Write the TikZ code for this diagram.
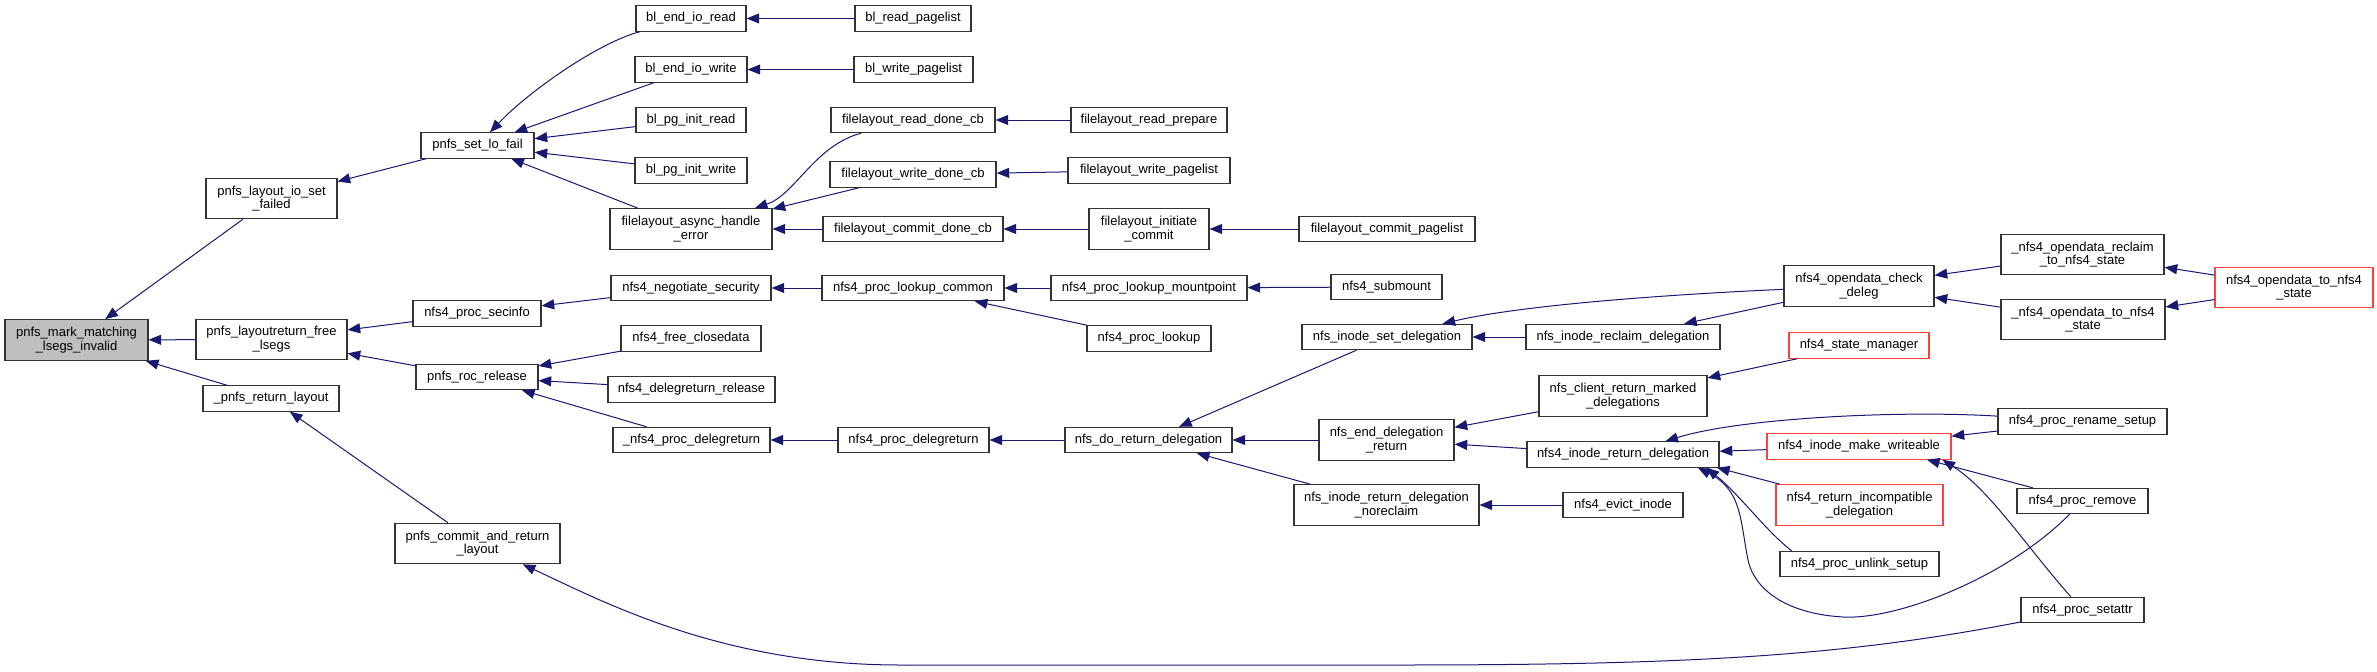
\documentclass[tikz,border=0pt]{standalone}
\usepackage{fontspec}
\setmainfont{Liberation Sans}
\usetikzlibrary{arrows.meta}
\definecolor{edgeblue}{HTML}{191970}
\definecolor{truncred}{HTML}{FF4040}
\definecolor{hlgray}{HTML}{BFBFBF}

\begin{document}
\begin{tikzpicture}[x=0.75pt, y=-0.75pt, >={Triangle[length=9.5pt,width=7.5pt]},
    fn/.style={rectangle, draw=black!80, line width=0.8pt, fill=white, inner sep=0pt,
      minimum height=19pt, align=center, font=\fontsize{9.75}{10.3}\selectfont},
    two/.style={minimum height=30.5pt},
    hl/.style={fill=hlgray},
    redbox/.style={draw=truncred},
    call/.style={->, draw=edgeblue, line width=0.75pt}]
  \fill[white] (0,0) rectangle (2377,671);
  \useasboundingbox (0,0) rectangle (2377,671);

  % column 1 and 2
  \node[fn, two, hl, minimum width=107.25pt] (mark) at (76.5,340) {pnfs\_mark\_matching\\\_lsegs\_invalid};
  \node[fn, two, minimum width=98.25pt] (iofail) at (271.5,198.5) {pnfs\_layout\_io\_set\\\_failed};
  \node[fn, two, minimum width=113.25pt] (lrfree) at (271.5,339.5) {pnfs\_layoutreturn\_free\\\_lsegs};
  \node[fn, minimum width=102pt] (retlay) at (271,398.5) {\_pnfs\_return\_layout};

  % column 3
  \node[fn, minimum width=84.75pt] (setlo) at (477.5,145.5) {pnfs\_set\_lo\_fail};
  \node[fn, minimum width=96pt] (secinfo) at (477,313.5) {nfs4\_proc\_secinfo};
  \node[fn, minimum width=91.5pt] (roc) at (477,377) {pnfs\_roc\_release};
  \node[fn, two, minimum width=123.75pt] (commit) at (477.5,543.5) {pnfs\_commit\_and\_return\\\_layout};

  % column 4
  \node[fn, minimum width=82.5pt] (blread) at (691,18.5) {bl\_end\_io\_read};
  \node[fn, minimum width=84pt] (blwrite) at (691,69.5) {bl\_end\_io\_write};
  \node[fn, minimum width=82.5pt] (blpgr) at (691,120) {bl\_pg\_init\_read};
  \node[fn, minimum width=84pt] (blpgw) at (691,170.5) {bl\_pg\_init\_write};
  \node[fn, two, minimum width=121.5pt] (async) at (691,229) {filelayout\_async\_handle\\\_error};
  \node[fn, minimum width=120pt] (negsec) at (691,288) {nfs4\_negotiate\_security};
  \node[fn, minimum width=105pt] (freecd) at (691,338.5) {nfs4\_free\_closedata};
  \node[fn, minimum width=125.25pt] (drrel) at (691.5,389.5) {nfs4\_delegreturn\_release};
  \node[fn, minimum width=117.75pt] (pdrint) at (691.5,440) {\_nfs4\_proc\_delegreturn};

  % column 5
  \node[fn, minimum width=87pt] (blrpl) at (913,18.5) {bl\_read\_pagelist};
  \node[fn, minimum width=89.25pt] (blwpl) at (913.5,69.5) {bl\_write\_pagelist};
  \node[fn, minimum width=123pt] (rdcb) at (913,120) {filelayout\_read\_done\_cb};
  \node[fn, minimum width=124.5pt] (wrcb) at (913,174.5) {filelayout\_write\_done\_cb};
  \node[fn, minimum width=135pt] (cmcb) at (913,229) {filelayout\_commit\_done\_cb};
  \node[fn, minimum width=136.5pt] (lkcommon) at (913,288) {nfs4\_proc\_lookup\_common};
  \node[fn, minimum width=113.25pt] (pdr) at (913.5,440) {nfs4\_proc\_delegreturn};

  % column 6
  \node[fn, minimum width=117pt] (rdprep) at (1149,120) {filelayout\_read\_prepare};
  \node[fn, minimum width=121.5pt] (wrpl) at (1149,170.5) {filelayout\_write\_pagelist};
  \node[fn, two, minimum width=90pt] (initc) at (1149,229) {filelayout\_initiate\\\_commit};
  \node[fn, minimum width=147pt] (lkmount) at (1149,288) {nfs4\_proc\_lookup\_mountpoint};
  \node[fn, minimum width=93pt] (lookup) at (1149,338.5) {nfs4\_proc\_lookup};
  \node[fn, minimum width=125.25pt] (doret) at (1148.5,440) {nfs\_do\_return\_delegation};

  % column 7
  \node[fn, minimum width=132pt] (cmpl) at (1387,229) {filelayout\_commit\_pagelist};
  \node[fn, minimum width=83.25pt] (submount) at (1386.5,287) {nfs4\_submount};
  \node[fn, minimum width=127.5pt] (setdel) at (1387,337) {nfs\_inode\_set\_delegation};
  \node[fn, two, minimum width=101.25pt] (enddel) at (1386.5,440) {nfs\_end\_delegation\\\_return};
  \node[fn, two, minimum width=138.75pt] (noreclaim) at (1386.5,505) {nfs\_inode\_return\_delegation\\\_noreclaim};

  % column 8
  \node[fn, minimum width=145.5pt] (reclaim) at (1623,337) {nfs\_inode\_reclaim\_delegation};
  \node[fn, two, minimum width=126pt] (client) at (1623,396) {nfs\_client\_return\_marked\\\_delegations};
  \node[fn, minimum width=144pt] (inoderet) at (1623,454.5) {nfs4\_inode\_return\_delegation};
  \node[fn, minimum width=90pt] (evict) at (1623,505) {nfs4\_evict\_inode};

  % column 9
  \node[fn, two, minimum width=112.5pt] (check) at (1859,286) {nfs4\_opendata\_check\\\_deleg};
  \node[fn, redbox, minimum width=105pt] (statemgr) at (1859,345.5) {nfs4\_state\_manager};
  \node[fn, redbox, minimum width=138pt] (writeable) at (1859,446.5) {nfs4\_inode\_make\_writeable};
  \node[fn, two, redbox, minimum width=125.25pt] (incompat) at (1859.5,505) {nfs4\_return\_incompatible\\\_delegation};
  \node[fn, minimum width=119.25pt] (unlink) at (1859.5,564) {nfs4\_proc\_unlink\_setup};

  % column 10 and 11
  \node[fn, two, minimum width=122.25pt] (reclaimst) at (2082.5,254.5) {\_nfs4\_opendata\_reclaim\\\_to\_nfs4\_state};
  \node[fn, two, minimum width=123pt] (odto) at (2083,319.5) {\_nfs4\_opendata\_to\_nfs4\\\_state};
  \node[fn, minimum width=126.75pt] (rename) at (2082.5,421.5) {nfs4\_proc\_rename\_setup};
  \node[fn, minimum width=98.25pt] (remove) at (2082.5,501) {nfs4\_proc\_remove};
  \node[fn, minimum width=92.25pt] (setattr) at (2082.5,610) {nfs4\_proc\_setattr};
  \node[fn, two, redbox, minimum width=118.5pt] (odstate) at (2294,287.5) {nfs4\_opendata\_to\_nfs4\\\_state};

  % calls
  \draw[call] (iofail) -- (mark);
  \draw[call] (lrfree) -- (mark);
  \draw[call] (retlay) -- (mark);
  \draw[call] (setlo) -- (iofail);
  \draw[call] (secinfo) -- (lrfree);
  \draw[call] (roc) -- (lrfree);
  \draw[call] (commit) -- (retlay);
  \draw[call] (blread) .. controls (600,42) and (530,90) .. (setlo);
  \draw[call] (blwrite) -- (setlo);
  \draw[call] (blpgr) -- (setlo);
  \draw[call] (blpgw) -- (setlo);
  \draw[call] (async) -- (setlo);
  \draw[call] (blrpl) -- (blread);
  \draw[call] (blwpl) -- (blwrite);
  \draw[call] (rdcb) .. controls (815,145) and (795,195) .. (async);
  \draw[call] (wrcb) -- (async);
  \draw[call] (cmcb) -- (async);
  \draw[call] (rdprep) -- (rdcb);
  \draw[call] (wrpl) -- (wrcb);
  \draw[call] (initc) -- (cmcb);
  \draw[call] (cmpl) -- (initc);
  \draw[call] (negsec) -- (secinfo);
  \draw[call] (lkcommon) -- (negsec);
  \draw[call] (lkmount) -- (lkcommon);
  \draw[call] (lookup) -- (lkcommon);
  \draw[call] (submount) -- (lkmount);
  \draw[call] (freecd) -- (roc);
  \draw[call] (drrel) -- (roc);
  \draw[call] (pdrint) -- (roc);
  \draw[call] (pdr) -- (pdrint);
  \draw[call] (doret) -- (pdr);
  \draw[call] (setdel) -- (doret);
  \draw[call] (enddel) -- (doret);
  \draw[call] (noreclaim) -- (doret);
  \draw[call] (reclaim) -- (setdel);
  \draw[call] (check) .. controls (1700,293) and (1530,303) .. (setdel);
  \draw[call] (check) -- (reclaim);
  \draw[call] (client) -- (enddel);
  \draw[call] (inoderet) -- (enddel);
  \draw[call] (evict) -- (noreclaim);
  \draw[call] (statemgr) -- (client);
  \draw[call] (reclaimst) -- (check);
  \draw[call] (odto) -- (check);
  \draw[call] (odstate) -- (reclaimst);
  \draw[call] (odstate) -- (odto);
  \draw[call] (rename) .. controls (1900,410) and (1740,418) .. (inoderet);
  \draw[call] (rename) -- (writeable);
  \draw[call] (writeable) -- (inoderet);
  \draw[call] (incompat) -- (inoderet.-8);
  \draw[call] (unlink.169) .. controls (1765,530) and (1740,495) .. (inoderet.-9);
  \draw[call] (remove) .. controls (2010,575) and (1900,620) .. (1843,617)
    .. controls (1790,614) and (1755,592) .. (1748,560)
    .. controls (1740,520) and (1742,490) .. (inoderet.-10);
  \draw[call] (remove) -- (writeable.-11);
  \draw[call] (setattr) .. controls (2025,545) and (1990,490) .. (writeable.-9.5);
  \draw[call] (setattr) .. controls (1850,655) and (1700,665) .. (1400,665) -- (900,665)
    .. controls (720,665) and (600,600) .. (commit);
\end{tikzpicture}
\end{document}
